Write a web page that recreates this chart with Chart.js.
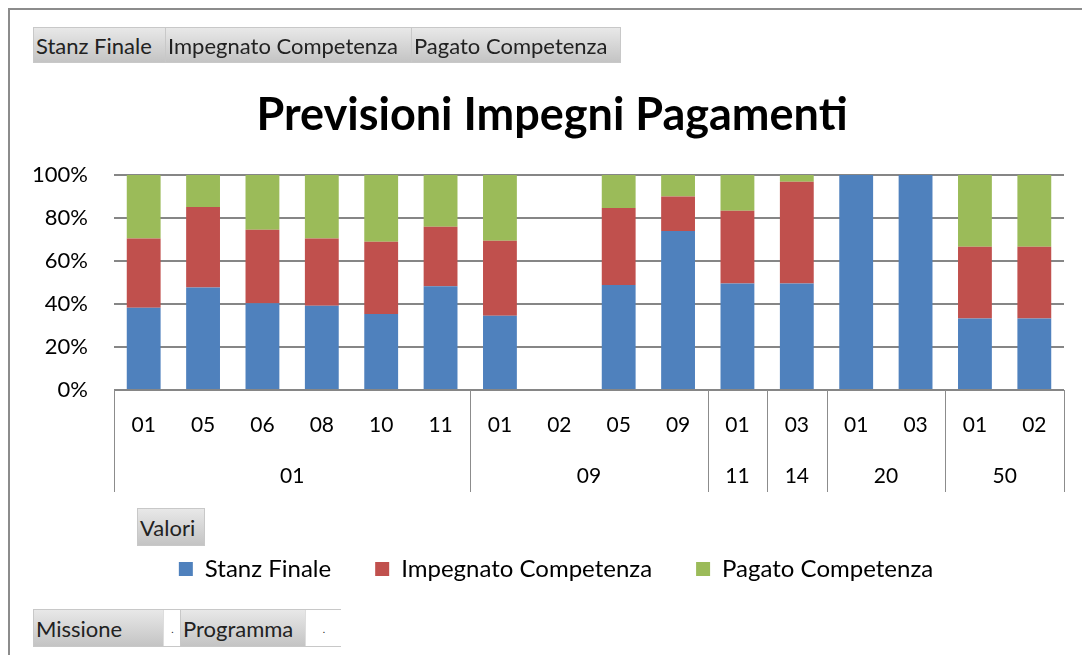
<!DOCTYPE html>
<html>
<head>
<meta charset="utf-8">
<script src="https://cdn.jsdelivr.net/npm/chart.js@4/dist/chart.umd.min.js"></script>
<style>
  html, body { margin: 0; padding: 0; background: #fff; }
  #wrap { position: relative; width: 1082px; height: 655px; overflow: hidden; font-family: Lato, sans-serif; }
  #frame { position: absolute; left: 8px; top: 8px; width: 1200px; height: 800px; border-left: 2px solid #8c8c8c; border-top: 2px solid #8c8c8c; }
  canvas { position: absolute; left: 0; top: 0; }
  .btn { position: absolute; height: 36px; line-height: 36px; font-size: 22px; color: #222; background: linear-gradient(#e8e8e8, #c4c4c4); border: 1px solid #c8c8c8; box-sizing: border-box; padding-left: 2px; white-space: nowrap; }
  .drop { position: absolute; top: 0; bottom: 0; background: #fff; border-left: 1px solid #ddd; font-size: 10px; text-align: center; }
</style>
</head>
<body>
<div id="wrap">
  <div id="frame"></div>
  <canvas id="c" width="1082" height="655"></canvas>
  <div class="btn" style="left:33px;top:27px;width:133px;">Stanz Finale</div>
  <div class="btn" style="left:165px;top:27px;width:247px;">Impegnato Competenza</div>
  <div class="btn" style="left:411px;top:27px;width:210px;">Pagato Competenza</div>
  <div class="btn" style="left:137px;top:508px;width:68px;height:38px;line-height:38px;">Valori</div>
  <div class="btn" style="left:33px;top:609px;width:148px;height:38px;line-height:38px;">Missione<span class="drop" style="left:129px;width:17px;">.</span></div>
  <div class="btn" style="left:180px;top:609px;width:161px;height:38px;line-height:38px;">Programma<span class="drop" style="left:124px;width:36px;">.</span></div>
</div>
<script>
const missioni = ["01", "01", "01", "01", "01", "01", "09", "09", "09", "09", "11", "14", "20", "20", "50", "50"];
const programmi = ["01", "05", "06", "08", "10", "11", "01", "02", "05", "09", "01", "03", "01", "03", "01", "02"];
const stanzFinale = [38.3, 47.7, 40.4, 39.2, 35.3, 48.2, 34.5, null, 48.8, 74.0, 49.5, 49.5, 100, 100, 33.3, 33.3];
const impegnato = [32.2, 37.4, 34.1, 31.3, 33.6, 27.7, 34.9, null, 35.8, 16.0, 33.9, 47.4, 0, 0, 33.3, 33.3];
const pagato = [29.5, 14.9, 25.5, 29.5, 31.1, 24.1, 30.6, null, 15.4, 10.0, 16.6, 3.1, 0, 0, 33.4, 33.4];
const yTicks = [0, 20, 40, 60, 80, 100];

const FONT = "Lato, sans-serif";

// second row of the category axis: mission groups with separators
const groupAxis = {
  id: "groupAxis",
  afterLayout(chart) {
    // title and legend sit a little right of the canvas centre
    chart.titleBlock.left += 20; chart.titleBlock.right += 20;
    chart.legend.left += 24; chart.legend.right += 24;
  },
  afterDraw(chart) {
    const { ctx, chartArea } = chart;
    const x = chart.scales.x;
    const step = x.getPixelForValue(1) - x.getPixelForValue(0);
    const top = chartArea.bottom, bottom = chartArea.bottom + 102;
    ctx.save();
    ctx.strokeStyle = "#8c8c8c";
    ctx.lineWidth = 1;
    ctx.fillStyle = "#000";
    ctx.font = "21px " + FONT;
    ctx.textAlign = "center";
    ctx.textBaseline = "middle";
    let start = 0;
    for (let i = 1; i <= missioni.length; i++) {
      if (i === missioni.length || missioni[i] !== missioni[start]) {
        const x0 = x.getPixelForValue(start) - step / 2;
        const x1 = x.getPixelForValue(i - 1) + step / 2;
        [x0, x1].forEach(px => {
          ctx.beginPath();
          ctx.moveTo(Math.round(px) + 0.5, top);
          ctx.lineTo(Math.round(px) + 0.5, bottom);
          ctx.stroke();
        });
        ctx.fillText(missioni[start], (x0 + x1) / 2, top + 86);
        start = i;
      }
    }
    ctx.restore();
  }
};

new Chart(document.getElementById("c"), {
  type: "bar",
  data: {
    labels: programmi,
    datasets: [
      { label: "Stanz Finale", data: stanzFinale, backgroundColor: "#4f81bd" },
      { label: "Impegnato Competenza", data: impegnato, backgroundColor: "#c0504d" },
      { label: "Pagato Competenza", data: pagato, backgroundColor: "#9bbb59" }
    ]
  },
  options: {
    responsive: false,
    animation: false,
    events: [],
    layout: { padding: { left: 0, right: 18, top: 0, bottom: 64 } },
    datasets: { bar: { categoryPercentage: 1, barPercentage: 0.57, borderWidth: 0 } },
    scales: {
      x: {
        stacked: true,
        grid: { display: false },
        border: { display: false },
        ticks: { color: "#000", font: { family: FONT, size: 21 }, padding: 15, autoSkip: false, maxRotation: 0 },
        afterFit(s) { s.height = 123; }
      },
      y: {
        stacked: true,
        min: 0, max: 100,
        afterBuildTicks(s) { s.ticks = yTicks.map(v => ({ value: v })); },
        grid: { color: "#868686", lineWidth: 2, drawTicks: false },
        border: { display: false },
        ticks: { color: "#000", font: { family: FONT, size: 22 }, padding: 26, callback: v => v + "%" },
        afterFit(s) { s.width = 114; }
      }
    },
    plugins: {
      title: { display: true, text: "Previsioni Impegni Pagamenti", color: "#000", font: { family: FONT, size: 45, weight: "bold" }, padding: { top: 88, bottom: 33 } },
      legend: { position: "bottom", labels: { color: "#000", font: { family: FONT, size: 24 }, boxWidth: 14, boxHeight: 14, padding: 44 } },
      tooltip: { enabled: false }
    }
  },
  plugins: [groupAxis]
});
</script>
</body>
</html>
